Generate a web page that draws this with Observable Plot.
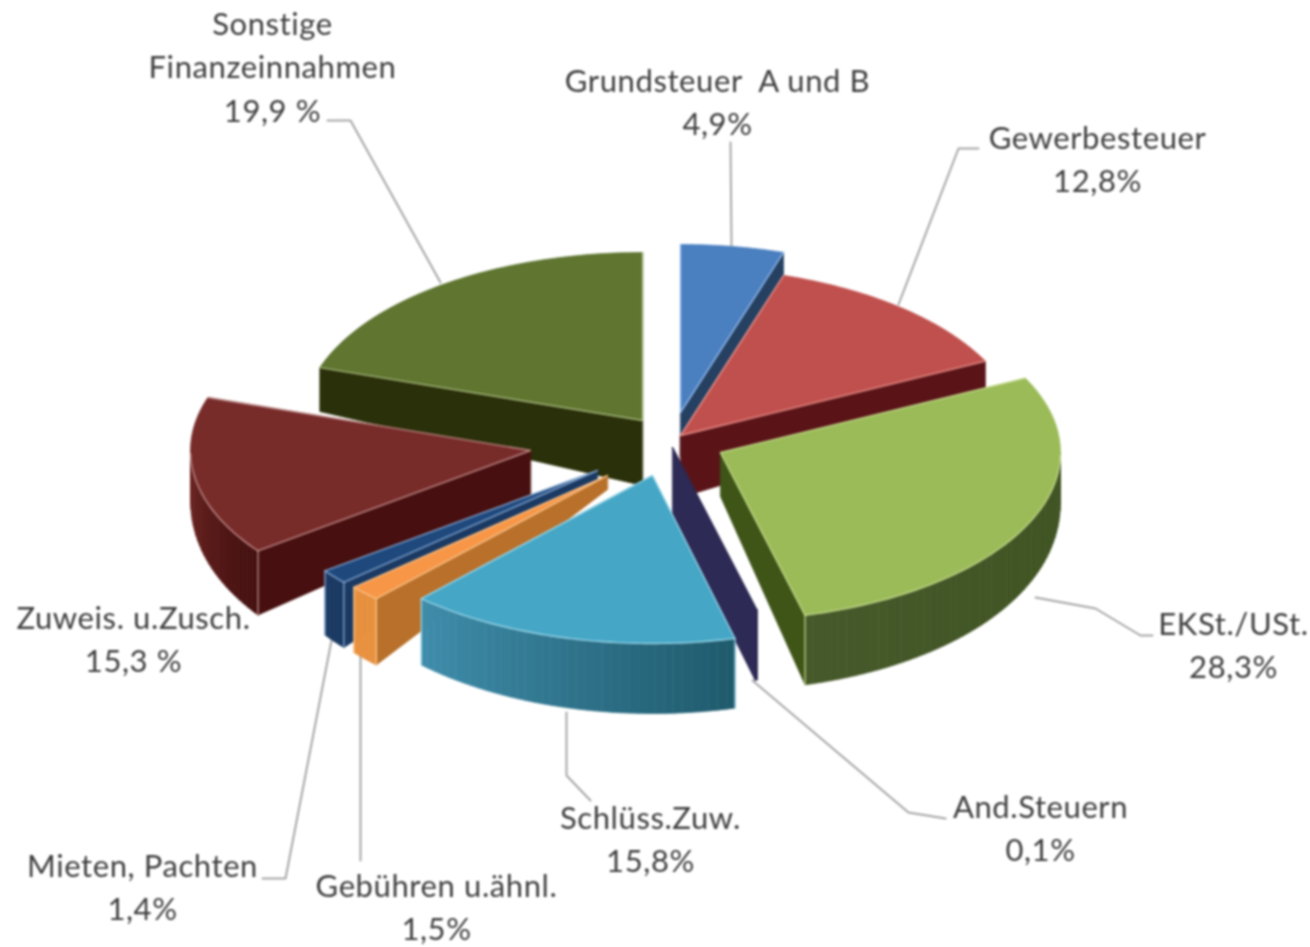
<!DOCTYPE html>
<html lang="de">
<head>
<meta charset="utf-8">
<script src="https://cdn.jsdelivr.net/npm/d3@7"></script>
<script src="https://cdn.jsdelivr.net/npm/@observablehq/plot@0.6"></script>
<style>
html,body{margin:0;padding:0;background:#fff}
svg{display:block;filter:blur(0.8px)}
svg text{letter-spacing:0.6px}
</style>
</head>
<body>
<div id="chart"></div>
<script>
// Data, clockwise from twelve o'clock
const categories = ["Grundsteuer  A und B","Gewerbesteuer","EKSt./USt.","And.Steuern","Schlüss.Zuw.","Gebühren u.ähnl.","Mieten, Pachten","Zuweis. u.Zusch.","Sonstige Finanzeinnahmen"];
const shares = [4.9,12.8,28.3,0.1,15.8,1.5,1.4,15.3,19.9];

// Styles, one per slice
const topColors  = ["#4a7fc0","#c0504d","#9bbb59","#2d2a55","#45a6c6","#f79646","#1f497d","#772c2a","#5f7530"];
const edgeColors = ["#9cc0ee","#ee9c98","#c8dc90","#2d2a55","#a5dcec","#fcc890","#8fb0d8","#c99a98","#b0c088"];
const cutColors  = ["#254061","#5a1418","#3f5518","#2d2a55","#1f5b6a","#b8702a","#1b3a63","#470f0f","#2a3009"];
const rimFrom    = ["#254061","#5a1418","#3d5120","#2d2a55","#1f5a6c","#e8913f","#1b3a63","#43100f","#2a3009"];
const rimTo      = ["#254061","#5a1418","#46592a","#2d2a55","#3f8dab","#e8913f","#1b3a63","#6d2321","#2a3009"];

// Pie layout: ellipse radii, explosion of each slice from the pie centre, depth behind each apex
const rx = 340, ry = 168, cx = 660, cy = 440;
const explodeX = [20,20,60,12,-8,-53,-63,-130,-18];
const explodeY = [-28,-5,12,7,35,35,30,10,-20];
const apexDrop = [44,62,44,67,44,14,14,44,65];
const order = [8,0,1,7,6,5,2,3,4];

const total = d3.sum(shares);
const edges = d3.cumsum(shares).map(v => v / total * 2 * Math.PI);
const starts = [0, ...edges.slice(0, -1)];
const deg = Math.PI / 180;
const wallDepth = t => 44 + 26 * Math.sqrt(Math.max(0, -Math.cos(t)));

const marks = [];
for (const i of order) {
  const ax = cx + explodeX[i], ay = cy + explodeY[i];
  const px = t => ax + rx * Math.sin(t), py = t => ay - ry * Math.cos(t);
  const a = starts[i], b = edges[i];
  const polys = [];
  let id = 0;
  const add = (pts, fill) => { id++; for (const [x, y] of pts) polys.push({id, x, y, fill}); };
  const cut = t => add([[ax, ay], [px(t), py(t)], [px(t), py(t) + wallDepth(t)], [ax, ay + apexDrop[i]]], cutColors[i]);
  if (Math.sin(a) < -1e-6) cut(a);
  if (Math.sin(b) > 1e-6) cut(b);
  const lo = Math.max(a, 90 * deg), hi = Math.min(b, 270 * deg);
  if (hi > lo) {
    const n = Math.max(1, Math.ceil((hi - lo) / (1.5 * deg)));
    const shade = d3.interpolateRgb(rimFrom[i], rimTo[i]);
    for (let k = 0; k < n; k++) {
      const t0 = lo + (hi - lo) * k / n, t1 = lo + (hi - lo) * (k + 1) / n;
      add([[px(t0), py(t0)], [px(t1), py(t1)], [px(t1), py(t1) + wallDepth(t1)], [px(t0), py(t0) + wallDepth(t0)]], shade((k + .5) / n));
    }
  }
  const rim = d3.range(0, 61).map(k => a + (b - a) * k / 60);
  add([[ax, ay], ...rim.map(t => [px(t), py(t)])], topColors[i]);
  marks.push(Plot.line(polys, {x: "x", y: "y", z: "id", fill: "fill", stroke: "fill", strokeWidth: 0.7, curve: "linear-closed"}));

  const lines = [];
  let e = 0;
  const stroke = pts => { e++; for (const [x, y] of pts) lines.push({e, x, y}); };
  stroke([[px(a), py(a)], [ax, ay], [px(b), py(b)]]);
  const front = rim.filter(t => t >= 90 * deg && t <= 270 * deg);
  if (front.length) stroke(front.map(t => [px(t), py(t)]));
  for (const t of [a, b]) {
    if (t >= 90 * deg && t <= 270 * deg) stroke([[px(t), py(t)], [px(t), py(t) + wallDepth(t)]]);
  }
  marks.push(Plot.line(lines, {x: "x", y: "y", z: "e", stroke: edgeColors[i], strokeWidth: 1.4, strokeOpacity: 0.85}));
}

// Label texts and their places
const labelTexts = ["Sonstige\nFinanzeinnahmen\n19,9 %","Grundsteuer  A und B\n4,9%","Gewerbesteuer\n12,8%","EKSt./USt.\n28,3%","And.Steuern\n0,1%","Schlüss.Zuw.\n15,8%","Gebühren u.ähnl.\n1,5%","Mieten, Pachten\n1,4%","Zuweis. u.Zusch.\n15,3 %"];
const labelX = [272,717,1097,1233,1040,650,436,142,133];
const labelY = [64,99,156,642,825,836,904,884,636];
const labels = labelTexts.map((text, i) => ({text, x: labelX[i], y: labelY[i]}));

// Leader lines
const leaderRows = [
  [[327,120],[350,120],[440,282]],
  [[730,142],[731,245]],
  [[978,148],[958,148],[898,304]],
  [[1035,597],[1095,608],[1140,635],[1152,635]],
  [[752,680],[908,812],[945,818]],
  [[566,712],[566,775],[590,800]],
  [[360,655],[360,860]],
  [[331,640],[285,878],[262,878]]
];
const leaders = leaderRows.flatMap((pts, k) => pts.map(([x, y]) => ({k, x, y})));

const chart = Plot.plot({
  width: 1310, height: 947,
  margin: 0,
  x: {domain: [0, 1310], range: [0, 1310], axis: null},
  y: {domain: [0, 947], range: [0, 947], axis: null},
  color: {type: "identity"},
  style: {background: "#fff", fontFamily: "Lato, sans-serif"},
  marks: [
    Plot.line(leaders, {x: "x", y: "y", z: "k", stroke: "#a6a6a6", strokeWidth: 2}),
    ...marks,
    Plot.text(labels, {x: "x", y: "y", text: "text", fill: "#3f3f3f", fontSize: 31, lineHeight: 1.4, textAnchor: "middle", lineAnchor: "middle", fontFamily: "Lato, sans-serif"})
  ]
});
document.getElementById("chart").append(chart);
</script>
</body>
</html>
